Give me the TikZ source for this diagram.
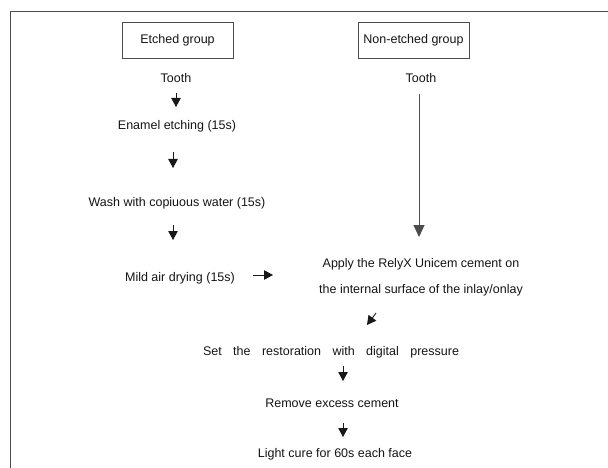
\documentclass[tikz,border=0pt]{standalone}
\usepackage{fontspec}
\setmainfont{Liberation Sans}
\usetikzlibrary{arrows.meta,calc}
\begin{document}
\begin{tikzpicture}[x=1pt,y=-1pt,
  every node/.style={text=black!92,font=\fontsize{12.5}{15}\selectfont},
  txt/.style={inner sep=0pt,anchor=center},
  groupbox/.style={draw=black!70,line width=0.9pt,minimum width=111pt,minimum height=36pt,inner sep=0pt},
  arr/.style={draw=black!90,line width=0.9pt,-{Triangle[length=9pt,width=9.5pt]}},
  longarr/.style={draw=black!70,line width=1pt,-{Triangle[length=12pt,width=11pt]}}]
\useasboundingbox (0,0) rectangle (608,468);
\draw[black!70,line width=0.9pt] (608,11) -- (10,11) -- (10,468);
% boxes
\node[groupbox] (eg) at (177.5,40) {Etched group};
\node[groupbox] (ng) at (413.5,40) {Non-etched group};
% left column
\node[txt] (t1) at (176,78) {Tooth};
\node[txt] (e1) at (177,126) {Enamel etching (15s)};
\node[txt] (w1) at (177,203) {Wash with copiuous water (15s)};
\node[txt] (m1) at (180,278) {Mild air drying (15s)};
% right column
\node[txt] (t2) at (421,78) {Tooth};
\node[txt,align=center] (ap) at (421,277) {Apply the RelyX Unicem cement on\\[11pt]the internal surface of the inlay/onlay};
% bottom
\node[txt] (st) at (331,352) {\makebox[256pt][s]{Set the restoration with digital pressure}};
\node[txt] (rm) at (332,403) {Remove excess cement};
\node[txt] (lc) at (335,454) {Light cure for 60s each face};
% connectors
\draw[arr,shorten <=15pt,shorten >=19pt] (t1.center) -- (t1.center |- e1.center);
\draw[arr,shorten <=26pt,shorten >=35pt] ([xshift=-4pt]e1.center) -- ([xshift=-4pt]e1.center |- w1.center);
\draw[arr,shorten <=22pt,shorten >=38pt] ([xshift=-4pt]w1.center) -- ([xshift=-4pt]w1.center |- m1.center);
\draw[longarr,shorten <=16pt,shorten >=40pt] ([xshift=-2pt]t2.center) -- ([xshift=-2pt]t2.center |- ap.center);
\draw[arr,shorten <=18pt,shorten >=46pt] ([yshift=3pt]m1.east) -- ([yshift=3pt]m1.east -| ap.west);
\draw[arr] ([shift={(-45,36)}]ap.center) -- ([shift={(36,-27)}]st.center);
\draw[arr,shorten <=14pt,shorten >=22pt] ([xshift=12pt]st.center) -- ([xshift=11pt]rm.center);
\draw[arr,shorten <=20pt,shorten >=17pt] ([xshift=11pt]rm.center) -- ([xshift=8pt]lc.center);
\end{tikzpicture}
\end{document}
